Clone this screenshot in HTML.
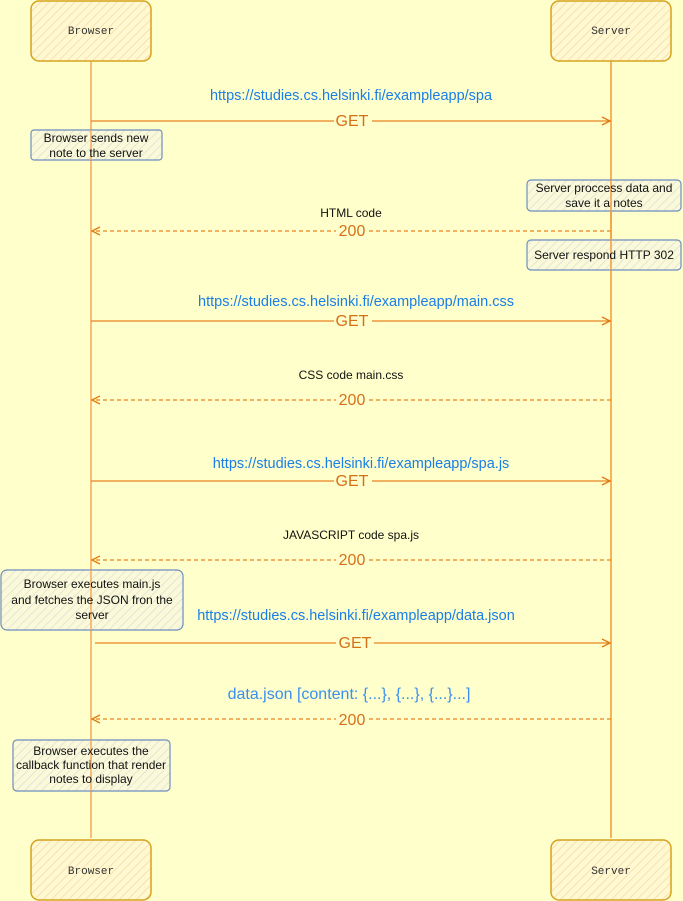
<!DOCTYPE html>
<html><head><meta charset="utf-8"><style>
html,body{margin:0;padding:0;background:#FFFFCC;}
svg{display:block;font-family:"Liberation Sans",sans-serif;}
</style></head><body>
<svg width="683" height="901" viewBox="0 0 683 901" xmlns="http://www.w3.org/2000/svg">
<defs>
<pattern id="h" width="6" height="6" patternUnits="userSpaceOnUse" patternTransform="rotate(45)"><rect width="6" height="6" fill="#fff8d0"/><line x1="0" y1="0" x2="0" y2="6" stroke="#f3d9a8" stroke-width="1.5"/></pattern>
<pattern id="hb" width="6" height="6" patternUnits="userSpaceOnUse" patternTransform="rotate(45)"><rect width="6" height="6" fill="#fbf9d8"/><line x1="0" y1="0" x2="0" y2="6" stroke="#d6e2dc" stroke-width="1.5"/></pattern>
<marker id="a" markerWidth="10" markerHeight="10" refX="9" refY="5" orient="auto" markerUnits="userSpaceOnUse"><path d="M1,1 L9,5 L1,9" fill="none" stroke="#e07a10" stroke-width="1.3"/></marker>
</defs>
<rect width="683" height="901" fill="#FFFFCC"/>
<line x1="91" y1="61" x2="91" y2="838" stroke="#f7a95a" stroke-width="1.5"/>
<line x1="611" y1="61" x2="611" y2="838" stroke="#f39a3a" stroke-width="1.5"/>
<g stroke="#d6a21c" stroke-width="1.5" fill="url(#h)">
<rect x="31" y="1" width="120" height="60" rx="8"/>
<rect x="551" y="1" width="120" height="60" rx="8"/>
<rect x="31" y="840" width="120" height="60" rx="8"/>
<rect x="551" y="840" width="120" height="60" rx="8"/>
</g>
<g font-family="Liberation Mono,monospace" font-size="11" fill="#333" text-anchor="middle">
<text x="91" y="34">Browser</text><text x="611" y="34">Server</text>
<text x="91" y="874">Browser</text><text x="611" y="874">Server</text>
</g>
<g stroke="#e8841c" stroke-width="1.3" fill="none">
<line x1="91" y1="121" x2="610" y2="121" marker-end="url(#a)"/>
<line x1="91" y1="321" x2="610" y2="321" marker-end="url(#a)"/>
<line x1="91" y1="481" x2="610" y2="481" marker-end="url(#a)"/>
<line x1="95" y1="643" x2="610" y2="643" marker-end="url(#a)"/>
<g stroke-dasharray="4,3">
<line x1="611" y1="231" x2="92" y2="231" marker-end="url(#a)"/>
<line x1="611" y1="400" x2="92" y2="400" marker-end="url(#a)"/>
<line x1="611" y1="560" x2="92" y2="560" marker-end="url(#a)"/>
<line x1="611" y1="719" x2="92" y2="719" marker-end="url(#a)"/>
</g></g>
<g fill="#FFFFCC">
<rect x="334" y="112" width="38" height="17"/><rect x="334" y="312" width="38" height="17"/>
<rect x="334" y="472" width="38" height="17"/><rect x="336" y="634" width="38" height="17"/>
<rect x="336" y="222" width="33" height="17"/><rect x="336" y="391" width="33" height="17"/>
<rect x="336" y="551" width="33" height="17"/><rect x="336" y="710" width="33" height="17"/>
</g>
<g font-size="16" fill="#d5701a" text-anchor="middle">
<text x="352" y="126">GET</text><text x="352" y="326">GET</text><text x="352" y="486">GET</text><text x="355" y="648">GET</text>
<text x="352" y="236">200</text><text x="352" y="405">200</text><text x="352" y="565">200</text><text x="352" y="725">200</text>
</g>
<g font-size="14.5" fill="#1a7ee8" text-anchor="middle">
<text x="351" y="100">https://studies.cs.helsinki.fi/exampleapp/spa</text>
<text x="356" y="306">https://studies.cs.helsinki.fi/exampleapp/main.css</text>
<text x="361" y="468">https://studies.cs.helsinki.fi/exampleapp/spa.js</text>
<text x="356" y="620">https://studies.cs.helsinki.fi/exampleapp/data.json</text>
<text x="349" y="699" font-size="16" fill="#3a8ef0">data.json [content: {...}, {...}, {...}...]</text>
</g>
<g font-size="12" fill="#111" text-anchor="middle">
<text x="351" y="217">HTML code</text>
<text x="351" y="379">CSS code main.css</text>
<text x="351" y="539">JAVASCRIPT code spa.js</text>
</g>
<g stroke="#6c8ebf" stroke-width="1.2" fill="url(#hb)">
<rect x="31" y="130" width="131" height="30" rx="3"/>
<rect x="527" y="180" width="154" height="31" rx="4"/>
<rect x="527" y="240" width="154" height="30" rx="4"/>
<rect x="1" y="570" width="182" height="60" rx="6"/>
<rect x="13" y="740" width="157" height="51" rx="4"/>
</g>
<line x1="91" y1="130" x2="91" y2="160" stroke="#f7a95a" stroke-width="1.5"/>
<line x1="611" y1="180" x2="611" y2="270" stroke="#f39a3a" stroke-width="1.5"/>
<line x1="91" y1="570" x2="91" y2="630" stroke="#f7a95a" stroke-width="1.5"/>
<line x1="91" y1="740" x2="91" y2="791" stroke="#f7a95a" stroke-width="1.5"/>
<g font-size="12" fill="#111" text-anchor="middle">
<text x="96" y="142">Browser sends new</text><text x="96" y="157">note to the server</text>
<text x="604" y="192">Server proccess data and</text><text x="604" y="207">save it a  notes</text>
<text x="604" y="259">Server respond HTTP 302</text>
<text x="92" y="588">Browser executes main.js</text><text x="92" y="604">and fetches the JSON fron the</text><text x="92" y="619">server</text>
<text x="91" y="755">Browser executes the</text><text x="91" y="769">callback function that render</text><text x="91" y="783">notes to display</text>
</g>
</svg>
</body></html>
